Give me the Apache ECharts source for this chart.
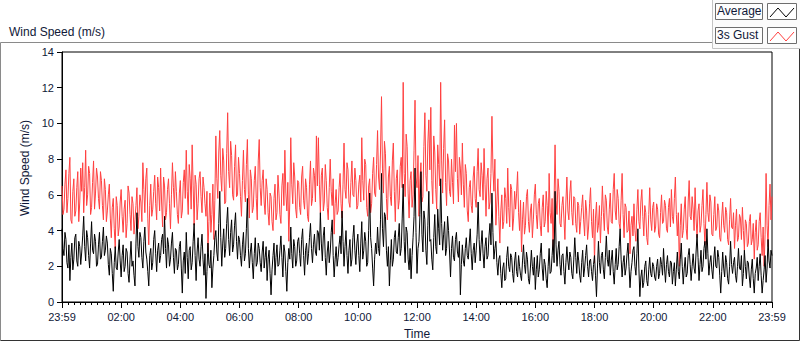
<!DOCTYPE html>
<html>
<head>
<meta charset="utf-8">
<script src="https://cdn.jsdelivr.net/npm/echarts@6/dist/echarts.min.js"></script>
<style>html,body{margin:0;padding:0;background:#fff;}#chart{width:800px;height:342px;}</style>
</head>
<body>
<div id="chart"></div>
<script>
// sampling step in minutes from the start of the record (23:59)
const stepMinutes = 2;
const xTickLabels = ['23:59','02:00','04:00','06:00','08:00','10:00','12:00','14:00','16:00','18:00','20:00','22:00','23:59'];
const yTicks = [0,2,4,6,8,10,12,14];
const seriesNames = ['Average','3s Gust'];

const averageSpeed = [
4.1,3.0,2.6,3.9,3.5,2.2,1.9,3.2,1.2,2.5,3.3,1.8,2.4,3.6,3.8,2.3,2.0,3.4,3.1,2.1,
2.8,3.7,4.8,3.1,2.3,4.0,3.6,2.6,1.9,3.3,4.5,2.9,2.7,3.8,3.4,2.0,2.1,3.2,3.9,2.4,
2.5,3.4,4.2,2.6,2.9,3.7,3.3,2.1,1.5,3.0,2.7,1.6,0.6,2.2,3.1,1.9,1.8,2.8,3.5,2.3,
1.4,2.6,3.2,1.7,2.0,3.0,2.8,1.6,1.1,2.4,3.4,2.0,2.3,1.5,0.9,3.3,5.0,3.1,2.5,3.9,
3.6,2.5,1.9,3.4,4.2,2.8,2.4,1.7,0.9,2.6,3.0,1.8,2.2,3.5,4.0,2.7,1.7,2.9,3.3,2.2,
2.6,3.5,3.8,2.7,4.8,3.0,1.9,3.6,3.2,2.0,2.4,3.3,3.9,2.5,1.6,3.0,2.9,1.8,2.1,3.1,
3.4,1.9,0.5,2.3,2.8,1.6,3.9,2.5,1.3,2.9,3.1,1.8,2.2,3.4,4.4,2.6,1.2,2.8,3.6,2.4,
2.0,3.1,3.8,2.4,1.5,2.7,0.2,1.7,3.3,2.1,1.9,2.9,0.8,1.9,2.6,3.6,4.0,2.8,2.3,4.4,
6.2,3.6,2.0,3.3,4.1,2.5,3.0,4.4,5.3,3.5,2.6,3.9,4.6,2.8,3.2,4.3,5.0,3.4,2.4,3.7,
3.5,2.6,2.0,3.2,3.9,2.3,2.7,4.1,5.8,3.0,1.9,2.8,3.3,2.2,1.3,2.7,3.6,2.0,2.2,3.3,
3.0,2.2,1.7,2.8,3.4,1.9,2.5,3.1,1.2,2.4,2.9,1.6,0.4,1.8,2.6,3.3,1.5,2.5,3.2,2.0,
2.1,2.9,3.7,2.5,1.4,3.2,2.8,1.7,0.6,2.2,3.0,2.4,4.2,2.7,1.9,3.5,3.1,2.0,2.3,3.4,
3.6,2.7,2.0,3.5,4.1,2.6,1.5,2.9,3.3,2.1,2.7,3.6,4.4,3.0,2.2,3.2,3.8,2.8,2.6,4.0,
3.9,2.9,5.0,3.3,2.3,3.7,4.2,2.5,1.5,2.8,3.4,2.2,2.8,3.9,4.6,2.6,1.4,2.4,3.1,2.0,
2.5,3.2,3.7,2.7,5.1,3.4,2.0,3.1,4.0,2.6,1.6,2.9,3.5,2.0,2.4,3.6,4.3,2.9,2.1,3.3,
3.8,2.6,1.7,3.3,4.5,2.4,2.9,3.9,3.4,2.0,2.2,4.0,6.1,3.6,3.0,1.9,0.9,2.4,3.3,2.7,
4.2,3.0,2.6,4.6,7.2,4.1,3.1,5.0,4.8,2.9,2.0,3.1,0.9,2.3,3.5,2.0,2.4,3.6,4.0,2.8,
2.7,3.6,4.4,2.6,3.0,4.7,6.6,3.4,2.2,4.2,3.9,2.4,1.8,3.0,1.3,2.6,3.6,4.8,7.5,3.9,
1.6,3.0,3.4,4.9,7.3,3.8,2.8,5.1,4.6,2.9,2.1,4.3,6.2,3.4,3.5,2.4,1.8,3.6,4.9,3.1,
2.7,5.2,4.1,3.2,6.9,4.4,2.9,3.8,4.5,2.6,3.0,4.8,4.0,2.8,1.4,3.0,3.7,2.5,2.3,3.5,
3.9,2.8,2.5,3.4,0.4,2.1,3.2,2.3,2.0,3.0,3.6,2.6,2.4,3.3,4.1,2.7,1.8,2.9,3.3,2.2,
2.9,3.8,5.6,3.5,2.3,3.2,4.0,2.7,1.9,3.1,3.6,2.4,2.6,3.7,4.4,3.2,6.1,3.9,2.4,3.0,
3.4,2.2,1.5,2.4,2.6,1.6,0.8,1.9,2.2,1.2,1.3,2.5,3.1,2.0,1.7,2.7,2.5,1.6,1.1,2.3,
2.8,1.7,1.4,2.6,2.0,1.5,1.2,2.3,3.2,2.1,1.6,2.8,2.4,1.3,1.0,1.9,2.9,2.0,1.5,2.5,
0.7,1.8,2.6,1.4,1.8,2.7,3.3,1.9,1.2,2.4,2.1,1.3,0.8,2.0,3.0,1.6,1.7,2.6,3.5,2.2,
6.2,3.2,2.0,2.9,3.4,2.1,1.5,2.6,2.7,1.7,1.0,2.2,3.1,2.3,1.8,2.8,2.5,1.6,1.3,2.4,
3.6,2.5,1.6,2.8,2.3,1.5,1.1,2.2,2.9,1.4,1.9,2.6,3.2,2.0,1.4,2.3,2.4,1.7,1.2,2.1,
2.6,1.5,0.3,1.9,3.4,2.2,1.6,2.6,2.8,1.8,1.3,2.5,3.7,2.4,2.0,2.9,1.5,2.3,2.9,1.7,
1.0,2.1,3.0,1.8,2.1,3.1,4.1,2.4,1.4,2.2,2.6,1.5,1.9,2.7,3.3,2.0,0.8,1.7,2.2,2.9,
3.1,2.0,1.5,2.7,4.1,1.9,0.3,1.4,1.8,0.8,1.1,2.0,2.3,1.2,0.9,1.8,2.5,1.6,1.4,2.2,
2.0,1.4,1.2,2.0,2.4,1.3,1.6,2.5,2.1,1.5,3.0,1.9,1.1,2.1,2.6,1.7,1.4,2.3,2.2,1.0,
1.7,2.2,0.9,1.8,2.8,1.7,1.3,2.4,3.3,2.0,1.0,1.9,2.5,1.4,1.6,2.6,3.0,2.1,1.2,2.0,
2.7,1.9,1.6,2.8,3.8,2.5,1.2,2.1,2.9,1.7,2.0,3.0,3.4,2.4,4.1,2.7,1.5,2.2,2.6,1.8,
1.3,2.4,3.1,2.0,1.9,2.9,2.5,1.5,0.5,1.7,2.8,1.9,1.4,2.6,2.2,1.3,1.0,2.0,3.4,2.1,
1.6,2.2,2.5,1.5,1.1,2.0,3.0,1.9,1.8,2.6,0.9,1.6,2.9,2.0,1.3,2.3,2.2,1.4,0.8,1.8,
2.4,1.3,0.5,1.6,1.9,2.5,1.2,2.0,2.7,1.5,0.5,1.2,1.8,2.6,1.1,1.9,3.5,2.3,1.9,2.9,
2.6
];

const gustSpeed = [
6.5,4.9,5.2,6.6,7.4,5.0,5.8,7.2,8.1,4.6,4.4,6.2,6.9,4.8,5.1,6.4,7.3,4.5,5.6,7.5,
6.2,7.8,5.0,6.4,8.5,5.4,6.0,7.6,7.2,4.9,5.3,6.7,7.9,5.2,6.1,7.5,7.0,5.8,5.2,7.3,
6.8,5.4,4.6,6.9,6.3,4.5,5.1,6.0,6.6,4.7,3.6,5.3,5.8,4.1,3.0,5.9,5.4,3.7,4.2,5.6,
6.3,4.8,3.9,5.2,5.7,3.6,4.4,6.5,6.1,4.9,4.0,5.9,5.5,3.8,4.6,5.4,6.4,4.1,4.8,6.0,
5.6,4.5,7.8,6.3,5.0,6.9,7.5,4.7,3.2,5.4,6.6,4.8,5.2,6.2,7.1,5.5,4.6,7.0,6.4,5.1,
7.5,5.6,4.2,7.0,6.5,4.6,5.0,6.3,6.9,5.5,4.1,6.0,7.8,6.4,5.3,7.3,6.2,4.9,4.4,6.1,
6.8,4.7,5.1,6.7,7.4,5.8,8.5,6.2,4.9,7.7,6.9,5.2,8.8,6.5,4.3,7.1,6.6,4.6,5.5,6.9,
7.3,5.9,5.0,7.0,6.4,5.5,4.8,6.2,2.8,4.5,6.1,3.9,4.9,6.6,3.5,5.7,9.3,6.9,5.8,8.4,
9.6,7.1,6.2,8.6,7.9,5.5,5.6,8.3,10.6,7.3,6.4,9.0,8.2,6.0,5.7,7.6,8.8,5.9,6.0,8.1,
7.2,5.9,4.8,6.8,8.5,6.3,5.6,7.7,9.1,6.0,4.7,7.4,6.9,5.0,5.3,6.8,7.6,5.8,4.6,7.9,
9.1,6.4,5.4,6.8,7.4,5.6,4.9,6.9,6.3,5.0,4.3,6.1,5.9,4.5,4.0,5.8,6.6,4.6,5.0,7.1,
6.1,4.9,4.4,6.5,7.2,5.4,8.5,6.1,5.1,6.7,3.4,5.6,9.2,6.6,5.5,7.8,7.0,5.2,4.7,6.8,
6.7,5.3,4.9,7.0,7.6,5.7,5.2,6.9,6.4,4.8,4.5,6.6,7.9,5.4,5.8,7.5,7.1,5.6,9.3,6.5,
9.2,6.6,5.0,7.1,7.5,5.1,5.6,7.7,6.8,5.3,4.6,6.4,8.0,6.2,5.4,6.9,3.8,5.5,6.3,4.9,
5.1,6.4,7.2,5.5,4.7,6.6,8.9,6.3,5.8,7.8,7.4,5.6,5.3,6.7,7.9,6.0,5.9,7.5,6.8,5.2,
5.4,6.6,7.1,5.6,9.2,6.8,5.7,8.0,7.7,5.3,4.8,6.5,6.9,5.0,5.5,7.2,8.1,6.1,5.9,7.7,
9.6,7.0,6.3,8.4,11.5,7.5,6.1,9.0,8.3,5.8,4.6,7.0,7.6,5.9,5.4,7.9,8.9,6.2,4.5,6.9,
7.4,5.2,5.7,7.6,8.1,6.4,12.3,7.2,5.9,9.4,8.7,6.1,4.7,6.8,7.3,5.3,6.0,8.5,11.3,7.0,
6.4,8.2,4.8,6.9,7.8,5.6,5.9,8.7,10.6,7.1,6.2,8.9,10.2,7.4,10.9,6.8,5.5,9.3,8.4,6.3,
5.2,8.8,7.7,6.5,12.3,7.9,6.1,8.6,10.2,6.7,5.4,8.3,7.9,6.2,5.9,8.0,6.7,5.5,9.9,7.3,
10.0,6.9,5.6,8.1,7.5,6.0,8.9,6.6,5.3,7.7,7.2,5.1,4.5,6.4,6.8,5.4,5.0,7.0,7.6,5.8,
5.3,7.3,8.6,6.3,5.9,7.8,7.1,5.7,8.6,6.6,4.8,6.9,7.5,5.2,5.6,7.2,10.4,7.5,6.2,8.0,
4.3,5.6,6.9,4.8,3.3,5.1,6.0,4.1,4.5,6.4,5.8,4.4,7.5,5.3,4.2,6.6,6.3,4.0,4.7,6.2,
5.2,6.1,7.3,5.0,4.0,5.7,2.8,4.6,5.6,3.8,4.3,5.9,6.3,4.5,3.9,5.1,5.5,3.6,4.6,6.0,
6.6,4.9,4.1,5.5,5.8,4.3,3.7,5.3,6.0,4.2,4.5,6.2,5.4,3.9,7.2,5.0,4.4,5.8,3.0,5.6,
8.8,5.7,4.9,6.9,6.2,4.4,4.2,5.4,5.9,4.7,3.5,5.6,7.0,5.1,4.6,6.1,6.8,5.0,4.3,5.9,
5.8,4.4,3.9,5.6,5.4,3.8,4.5,5.3,6.0,4.6,3.7,5.7,5.1,3.5,4.2,5.5,6.4,4.5,3.6,5.2,
2.2,4.7,5.6,3.9,4.3,5.4,3.3,4.8,6.5,5.0,4.0,6.0,5.7,4.2,3.8,5.2,6.1,4.5,4.4,6.3,
7.2,5.1,4.6,6.3,5.8,4.4,4.1,5.7,7.2,4.9,3.6,5.5,5.3,3.9,4.0,5.1,2.7,4.3,4.8,3.7,
5.5,4.0,3.4,5.2,6.3,4.5,4.1,5.6,6.3,4.8,3.7,5.4,5.0,3.6,3.2,4.9,6.4,4.6,4.0,5.3,
5.6,3.9,4.2,5.5,5.2,3.8,3.6,5.0,6.0,4.4,4.5,5.7,5.4,4.1,3.9,5.3,5.8,4.2,6.3,4.8,
4.4,5.8,7.0,4.9,3.7,5.0,2.0,4.3,5.5,3.6,4.0,5.2,5.9,4.1,3.5,5.6,6.8,4.8,4.6,5.9,
5.2,4.0,6.4,4.7,3.6,5.1,5.5,3.9,4.3,5.4,6.3,4.4,3.2,4.9,6.7,5.0,4.5,6.0,5.6,3.8,
3.7,4.9,5.9,4.0,4.2,5.5,5.1,3.6,3.4,4.7,5.6,4.3,3.9,5.3,5.0,3.5,3.2,4.6,5.8,4.2,
4.1,5.0,3.0,4.3,5.2,3.4,3.6,4.9,4.7,3.5,5.3,4.0,2.9,4.6,4.4,3.1,3.3,4.5,4.9,3.2,
3.5,4.4,2.4,3.9,4.6,2.9,3.2,4.5,5.0,3.6,2.6,4.2,2.0,3.8,7.2,4.3,3.1,5.4,6.6,4.6,
5.9
];

const textColor = '#101838';
const fontFam = '"Liberation Sans", Arial, sans-serif';
const toPairs = arr => arr.map((v, i) => [i * stepMinutes, v]);

const chart = echarts.init(document.getElementById('chart'), null, {renderer: 'svg'});
chart.setOption({
  animation: false,
  backgroundColor: '#ffffff',
  textStyle: {fontFamily: fontFam, color: textColor},
  title: {
    text: 'Wind Speed (m/s)', left: 4, top: 21,
    textStyle: {fontSize: 12, fontWeight: 'normal', color: textColor, fontFamily: fontFam}
  },
  grid: {left: 62, right: 28, top: 52, bottom: 40, outerBoundsMode: 'none', containLabel: false,
         show: true, borderColor: '#000', borderWidth: 1, backgroundColor: '#fff'},
  xAxis: {
    type: 'value', min: 0, max: 1440, interval: 120,
    name: 'Time', nameLocation: 'middle', nameGap: 26,
    nameTextStyle: {fontSize: 12, color: textColor, fontFamily: fontFam},
    axisLine: {show: true, lineStyle: {color: '#000', width: 1}},
    axisTick: {show: true, length: 6, lineStyle: {color: '#000'}},
    minorTick: {show: true, splitNumber: 10, length: 3, lineStyle: {color: '#000'}},
    splitLine: {show: false},
    axisLabel: {
      margin: 9, fontSize: 11, color: textColor, fontFamily: fontFam,
      formatter: v => xTickLabels[Math.round(v / 120)] || ''
    }
  },
  yAxis: {
    type: 'value', min: yTicks[0], max: yTicks[yTicks.length - 1], interval: 2,
    name: 'Wind Speed (m/s)', nameLocation: 'middle', nameGap: 21, nameRotate: 90,
    nameTextStyle: {fontSize: 12, color: textColor, fontFamily: fontFam, padding: [0, 0, 0, 18]},
    axisLine: {show: true, lineStyle: {color: '#000', width: 1}},
    axisTick: {show: true, length: 5, lineStyle: {color: '#000'}},
    splitLine: {show: false},
    axisLabel: {margin: 8, fontSize: 11, color: textColor, fontFamily: fontFam}
  },
  series: [
    {name: seriesNames[1], type: 'line', data: toPairs(gustSpeed), showSymbol: false, symbol: 'none',
     lineStyle: {color: '#ff4040', width: 1}, itemStyle: {color: '#ff4040'}, z: 2, silent: true},
    {name: seriesNames[0], type: 'line', data: toPairs(averageSpeed), showSymbol: false, symbol: 'none',
     lineStyle: {color: '#000000', width: 1}, itemStyle: {color: '#000'}, z: 3, silent: true}
  ],
  graphic: [
    {type: 'line', shape: {x1: 0.5, y1: 42.5, x2: 712.5, y2: 42.5}, style: {stroke: '#8a8a8a', lineWidth: 1}},
    {type: 'line', shape: {x1: 0.5, y1: 42.5, x2: 0.5, y2: 340.5}, style: {stroke: '#8a8a8a', lineWidth: 1}},
    {type: 'line', shape: {x1: 0.5, y1: 340.5, x2: 799.5, y2: 340.5}, style: {stroke: '#333', lineWidth: 1}},
    {type: 'line', shape: {x1: 799.5, y1: 48.5, x2: 799.5, y2: 340.5}, style: {stroke: '#333', lineWidth: 1}},
    {type: 'rect', shape: {x: 712.5, y: -1, width: 90, height: 49.5}, style: {fill: '#fbfbfb', stroke: '#c4c4c4', lineWidth: 1}},
    {type: 'rect', shape: {x: 715.5, y: 3.5, width: 47, height: 16}, style: {fill: '#fdfdfd', stroke: '#6e6e6e', lineWidth: 1}},
    {type: 'rect', shape: {x: 715.5, y: 27.5, width: 47, height: 16}, style: {fill: '#fdfdfd', stroke: '#6e6e6e', lineWidth: 1}},
    {type: 'rect', shape: {x: 767.5, y: 3.5, width: 29, height: 16}, style: {fill: '#fff', stroke: '#6e6e6e', lineWidth: 1}},
    {type: 'rect', shape: {x: 767.5, y: 27.5, width: 29, height: 16}, style: {fill: '#fff', stroke: '#6e6e6e', lineWidth: 1}},
    {type: 'polyline', shape: {points: [[770, 17], [778, 8], [786, 17], [794, 8]]}, style: {stroke: '#000', fill: null, lineWidth: 1}},
    {type: 'polyline', shape: {points: [[770, 41], [778, 32], [786, 41], [794, 32]]}, style: {stroke: '#ff4040', fill: null, lineWidth: 1}},
    {type: 'text', left: 717, top: 5, style: {text: seriesNames[0], font: '12px ' + fontFam, fill: textColor}},
    {type: 'text', left: 717, top: 29, style: {text: seriesNames[1], font: '12px ' + fontFam, fill: textColor}}
  ]
});
</script>
</body>
</html>
